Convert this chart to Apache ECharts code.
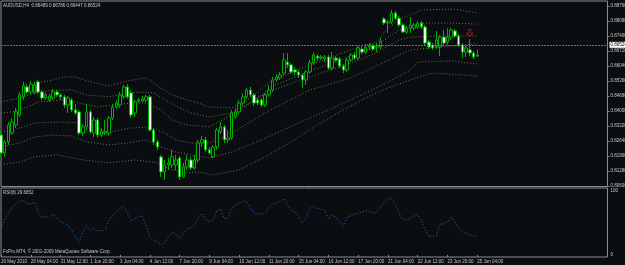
<!DOCTYPE html>
<html>
<head>
<meta charset="utf-8">
<script src="https://cdn.jsdelivr.net/npm/echarts@6/dist/echarts.min.js"></script>
<style>
  html, body { margin: 0; padding: 0; background: #0a0e10; }
  #chart { width: 625px; height: 265px; }
</style>
</head>
<body>
<div id="chart"></div>
<script>
// AUDUSD H4, 26 May 2010 20:00 .. 25 Jun 2010 04:00 (129 bars)
const tickLabels = ['26 May 2010', '28 May 04:00', '31 May 12:00', '1 Jun 20:00', '3 Jun 04:00', '4 Jun 12:00',
  '7 Jun 20:00', '9 Jun 04:00', '10 Jun 12:00', '11 Jun 20:00', '15 Jun 04:00', '16 Jun 12:00',
  '17 Jun 20:00', '21 Jun 04:00', '22 Jun 12:00', '23 Jun 20:00', '25 Jun 04:00'];
const priceTicks = [0.8876, 0.8808, 0.8740, 0.8672, 0.8604, 0.8536, 0.8468, 0.8400, 0.8332, 0.8264, 0.8196, 0.8128, 0.8060];
const rsiTicks = [0, 100];

const open = [0.8291,0.8210,0.8260,0.8300,0.8337,0.8382,0.8464,0.8509,0.8486,0.8486,
  0.8532,0.8486,0.8459,0.8450,0.8459,0.8486,0.8473,0.8464,0.8427,0.8450,
  0.8405,0.8396,0.8300,0.8328,0.8396,0.8300,0.8359,0.8291,0.8300,0.8300,
  0.8368,0.8418,0.8427,0.8464,0.8509,0.8482,0.8391,0.8445,0.8445,0.8450,
  0.8464,0.8314,0.8260,0.8192,0.8124,0.8156,0.8156,0.8156,0.8187,0.8101,
  0.8146,0.8178,0.8142,0.8178,0.8255,0.8269,0.8224,0.8192,0.8237,0.8305,
  0.8328,0.8269,0.8278,0.8373,0.8396,0.8436,0.8464,0.8495,0.8473,0.8450,
  0.8450,0.8427,0.8473,0.8495,0.8541,0.8550,0.8572,0.8622,0.8609,0.8586,
  0.8577,0.8563,0.8541,0.8577,0.8618,0.8649,0.8640,0.8636,0.8645,0.8595,
  0.8640,0.8636,0.8604,0.8586,0.8631,0.8654,0.8640,0.8681,0.8667,0.8690,
  0.8695,0.8690,0.8690,0.8817,0.8799,0.8803,0.8844,0.8821,0.8790,0.8758,
  0.8776,0.8776,0.8781,0.8799,0.8781,0.8713,0.8699,0.8690,0.8690,0.8735,
  0.8713,0.8735,0.8763,0.8740,0.8699,0.8667,0.8677,0.8663,0.86489];
const close = [0.8210,0.8260,0.8337,0.8350,0.8396,0.8473,0.8513,0.8486,0.8522,0.8518,
  0.8486,0.8459,0.8473,0.8468,0.8486,0.8473,0.8464,0.8427,0.8459,0.8405,
  0.8391,0.8300,0.8328,0.8396,0.8305,0.8359,0.8291,0.8305,0.8305,0.8368,
  0.8418,0.8436,0.8473,0.8509,0.8464,0.8382,0.8441,0.8450,0.8455,0.8464,
  0.8314,0.8260,0.8237,0.8124,0.8156,0.8165,0.8192,0.8178,0.8101,0.8146,
  0.8178,0.8142,0.8178,0.8255,0.8269,0.8224,0.8210,0.8237,0.8314,0.8328,
  0.8269,0.8278,0.8391,0.8396,0.8436,0.8464,0.8495,0.8473,0.8436,0.8436,
  0.8427,0.8473,0.8495,0.8541,0.8554,0.8563,0.8631,0.8609,0.8577,0.8577,
  0.8563,0.8541,0.8577,0.8618,0.8654,0.8640,0.8645,0.8645,0.8595,0.8640,
  0.8631,0.8604,0.8586,0.8631,0.8654,0.8640,0.8686,0.8667,0.8690,0.8695,
  0.8681,0.8695,0.8717,0.8799,0.8803,0.8844,0.8821,0.8790,0.8758,0.8776,
  0.8790,0.8790,0.8799,0.8781,0.8708,0.8690,0.8686,0.8722,0.8735,0.8708,
  0.8735,0.8767,0.8740,0.8699,0.8667,0.8686,0.8663,0.8645,0.86524];
const low = [0.8201,0.8192,0.8246,0.8291,0.8323,0.8373,0.8450,0.8477,0.8473,0.8477,
  0.8477,0.8450,0.8450,0.8441,0.8450,0.8464,0.8450,0.8414,0.8391,0.8396,
  0.8382,0.8291,0.8287,0.8314,0.8296,0.8282,0.8278,0.8282,0.8291,0.8287,
  0.8359,0.8409,0.8414,0.8455,0.8455,0.8368,0.8373,0.8436,0.8441,0.8441,
  0.8305,0.8246,0.8224,0.8101,0.8088,0.8133,0.8142,0.8133,0.8088,0.8097,
  0.8133,0.8133,0.8133,0.8165,0.8237,0.8214,0.8201,0.8187,0.8224,0.8296,
  0.8255,0.8255,0.8269,0.8364,0.8387,0.8423,0.8455,0.8464,0.8423,0.8427,
  0.8418,0.8418,0.8464,0.8486,0.8532,0.8541,0.8563,0.8595,0.8568,0.8563,
  0.8550,0.8504,0.8518,0.8568,0.8609,0.8627,0.8631,0.8622,0.8586,0.8586,
  0.8622,0.8595,0.8572,0.8577,0.8622,0.8631,0.8631,0.8658,0.8658,0.8677,
  0.8672,0.8667,0.8681,0.8790,0.8754,0.8794,0.8812,0.8781,0.8754,0.8749,
  0.8754,0.8767,0.8772,0.8772,0.8699,0.8681,0.8677,0.8681,0.8649,0.8699,
  0.8699,0.8722,0.8731,0.8690,0.8640,0.8645,0.8649,0.8636,0.86447];
const high = [0.8305,0.8269,0.8350,0.8368,0.8414,0.8486,0.8532,0.8522,0.8536,0.8532,
  0.8541,0.8495,0.8482,0.8477,0.8500,0.8495,0.8482,0.8473,0.8468,0.8459,
  0.8432,0.8405,0.8337,0.8432,0.8405,0.8373,0.8368,0.8323,0.8359,0.8377,
  0.8432,0.8450,0.8486,0.8518,0.8522,0.8495,0.8450,0.8459,0.8468,0.8473,
  0.8473,0.8323,0.8269,0.8201,0.8178,0.8187,0.8224,0.8201,0.8196,0.8165,
  0.8201,0.8192,0.8201,0.8269,0.8287,0.8282,0.8237,0.8246,0.8323,0.8350,
  0.8337,0.8314,0.8405,0.8414,0.8450,0.8482,0.8504,0.8509,0.8482,0.8459,
  0.8459,0.8482,0.8518,0.8554,0.8568,0.8577,0.8663,0.8663,0.8618,0.8599,
  0.8586,0.8572,0.8586,0.8631,0.8667,0.8658,0.8654,0.8654,0.8654,0.8667,
  0.8649,0.8645,0.8613,0.8640,0.8663,0.8667,0.8695,0.8690,0.8704,0.8708,
  0.8704,0.8708,0.8731,0.8826,0.8812,0.8858,0.8853,0.8831,0.8799,0.8785,
  0.8826,0.8799,0.8808,0.8808,0.8790,0.8722,0.8708,0.8763,0.8744,0.8767,
  0.8776,0.8776,0.8772,0.8749,0.8708,0.8695,0.8726,0.8672,0.86786];

// dotted band lines, read at the bars where they could be seen: [bar, price]
const bandA = [[10,0.8527],[14,0.8541],[17,0.8554],[20,0.8554],[24,0.8532],[29,0.8513],[34,0.8536],[39,0.8550],
  [43,0.8504],[46,0.8473],[50,0.8450],[53,0.8436],[56,0.8418],[62,0.8414],[67,0.8459],[73,0.8541],[83,0.8609],
  [94,0.8677],[101,0.8713],[103,0.8758],[107,0.8817],[110,0.8835],[113,0.8858],[122,0.8862],[128,0.8844]];
const bandB = [[0,0.8441],[5,0.8459],[10,0.8486],[15,0.8495],[19,0.8495],[23,0.8473],[29,0.8464],[34,0.8482],
  [38,0.8486],[41,0.8482],[44,0.8450],[48,0.8414],[51,0.8391],[56,0.8373],[62,0.8391],[67,0.8436],[73,0.8513],
  [83,0.8581],[94,0.8649],[101,0.8690],[103,0.8722],[107,0.8767],[110,0.8781],[113,0.8799],[120,0.8799],[128,0.8794]];
const bandC = [[0,0.8391],[3,0.8396],[7,0.8418],[10,0.8441],[17,0.8450],[21,0.8436],[26,0.8418],[30,0.8427],
  [35,0.8436],[39,0.8436],[43,0.8405],[46,0.8359],[50,0.8337],[56,0.8328],[62,0.8382],[68,0.8450],[73,0.8495],
  [83,0.8554],[94,0.8618],[101,0.8663],[103,0.8686],[107,0.8722],[110,0.8735],[118,0.8740],[128,0.8740]];
const bandD = [[0,0.8305],[5,0.8323],[9,0.8346],[16,0.8350],[21,0.8346],[24,0.8323],[29,0.8305],[35,0.8323],
  [40,0.8328],[44,0.8300],[47,0.8269],[51,0.8255],[56,0.8255],[62,0.8300],[70,0.8382],[76,0.8436],[83,0.8495],
  [94,0.8550],[103,0.8622],[110,0.8677],[118,0.8690],[128,0.8704]];
const bandE = [[0,0.8237],[5,0.8255],[9,0.8282],[14,0.8291],[19,0.8287],[23,0.8260],[29,0.8246],[34,0.8255],
  [39,0.8269],[43,0.8237],[47,0.8214],[51,0.8201],[56,0.8187],[62,0.8214],[70,0.8269],[80,0.8346],[88,0.8405],
  [94,0.8450],[103,0.8522],[110,0.8586],[112,0.8622],[121,0.8627],[128,0.8613]];
const bandF = [[0,0.8156],[5,0.8169],[9,0.8192],[15,0.8201],[22,0.8178],[29,0.8165],[36,0.8178],[42,0.8165],
  [46,0.8133],[50,0.8119],[53,0.8124],[57,0.8110],[64,0.8133],[71,0.8192],[78,0.8260],[85,0.8337],[92,0.8405],
  [98,0.8459],[104,0.8504],[110,0.8541],[116,0.8572],[128,0.8559]];

const rsi = [42,55,65,75,79,84,85,80,80,83,
  67,59,59,60,64,58,52,50,46,38,
  28,21,35,46,38,42,38,38,39,54,
  62,68,72,76,65,53,57,60,61,45,
  28,23,21,16,19,28,36,33,25,35,
  41,43,47,58,65,55,52,54,69,71,
  57,57,73,78,81,84,84,73,67,64,
  64,67,74,80,81,84,88,77,70,68,
  60,50,58,73,76,73,72,70,56,62,
  59,52,46,59,61,64,65,67,69,68,
  65,67,74,83,88,88,79,65,55,55,
  58,61,63,54,39,29,29,30,48,49,
  52,60,52,41,36,34,32,29,29.6852];
const signalBar = 126, signalPrice = 0.8754;

const SLOTS = 164; // bars + empty chart shift on the right
const cats = Array.from({ length: SLOTS }, (_, i) =>
  (i < open.length && i % 8 === 0) ? tickLabels[i / 8] : '');
const candles = open.map((o, i) => [o, close[i], low[i], high[i]]);

const BG = '#0a0e10', FRAME = '#8c8c8c', TXT = '#c8c8c8', FONT = 'Liberation Sans';
const last = open.length - 1;
const f5 = v => v.toFixed(5);

const band = data => ({
  type: 'line', xAxisIndex: 0, yAxisIndex: 0, data, showSymbol: false, silent: true,
  lineStyle: { color: '#7d6b57', width: 1, type: [1, 2] }, z: 1
});

const chart = echarts.init(document.getElementById('chart'), null, { renderer: 'canvas' });
chart.setOption({
  backgroundColor: BG,
  animation: false,
  grid: [
    { left: 1, right: 17.5, top: 1, height: 185.5, show: true, borderColor: FRAME, borderWidth: 1, outerBoundsMode: 'none', containLabel: false },
    { left: 1, right: 17.5, top: 188, height: 69, show: true, borderColor: FRAME, borderWidth: 1, outerBoundsMode: 'none', containLabel: false }
  ],
  xAxis: [
    { type: 'category', gridIndex: 0, data: cats, boundaryGap: false,
      axisLine: { show: false }, axisTick: { show: false }, axisLabel: { show: false }, splitLine: { show: false } },
    { type: 'category', gridIndex: 1, data: cats, boundaryGap: false,
      axisLine: { show: false },
      axisTick: { show: true, interval: (i, v) => v !== '', length: 2, lineStyle: { color: FRAME } },
      axisLabel: { interval: (i, v) => v !== '', align: 'left', fontSize: 4.5, color: TXT, margin: 2, fontFamily: FONT },
      splitLine: { show: false } }
  ],
  yAxis: [
    { type: 'value', gridIndex: 0, position: 'right', min: 0.80577, max: 0.88987, scale: true,
      splitLine: { show: false }, axisLine: { show: false },
      axisTick: { show: true, customValues: priceTicks, length: 2, lineStyle: { color: FRAME } },
      axisLabel: { customValues: priceTicks, formatter: f5, fontSize: 4.5, color: TXT, margin: 3, fontFamily: FONT } },
    { type: 'value', gridIndex: 1, position: 'right', min: -3.125, max: 104.69,
      splitLine: { show: false }, axisLine: { show: false }, axisTick: { show: false },
      axisLabel: { customValues: rsiTicks, fontSize: 4.5, color: TXT, margin: 3, fontFamily: FONT } }
  ],
  graphic: [
    { type: 'text', left: 3, top: 3, style: { text: `AUDUSD,H4  ${f5(open[last])} ${f5(high[last])} ${f5(low[last])} ${f5(close[last])}`, fill: TXT, font: `4.5px "${FONT}"` } },
    { type: 'text', left: 3, top: 190, style: { text: `RSI(8) ${rsi[last].toFixed(4)}`, fill: TXT, font: `4.5px "${FONT}"` } },
    { type: 'text', left: 3, top: 249.5, style: { text: 'FxPro MT4, © 2001-2009 MetaQuotes Software Corp.', fill: TXT, font: `4.5px "${FONT}"` } }
  ],
  series: [
    band(bandA), band(bandB), band(bandC), band(bandD), band(bandE), band(bandF),
    { type: 'candlestick', xAxisIndex: 0, yAxisIndex: 0, data: candles, barWidth: 3, z: 3,
      itemStyle: { color: BG, color0: '#f2fff2', borderColor: '#00b000', borderColor0: '#00b000', borderWidth: 1 },
      markLine: { symbol: 'none', silent: true, animation: false,
        lineStyle: { color: '#707070', type: [2, 1], width: 1 },
        label: { position: 'end', formatter: () => f5(close[last]), backgroundColor: '#ffffff', color: '#000', fontSize: 4.5, fontFamily: FONT, padding: [1, 1, 0, 1], distance: 2 },
        data: [{ yAxis: close[last] }] } },
    { type: 'scatter', xAxisIndex: 0, yAxisIndex: 0, data: [[signalBar, signalPrice]], silent: true, z: 4,
      symbol: 'path://M3,0 L7,0 L7,6 L10,6 L5,11 L0,6 L3,6 Z', symbolSize: [6, 7],
      itemStyle: { color: 'transparent', borderColor: '#c01818', borderWidth: 1 } },
    { type: 'line', xAxisIndex: 1, yAxisIndex: 1, data: rsi, showSymbol: false, silent: true,
      lineStyle: { color: '#2a6cb5', width: 1, type: [1, 2] } }
  ]
});
</script>
</body>
</html>
